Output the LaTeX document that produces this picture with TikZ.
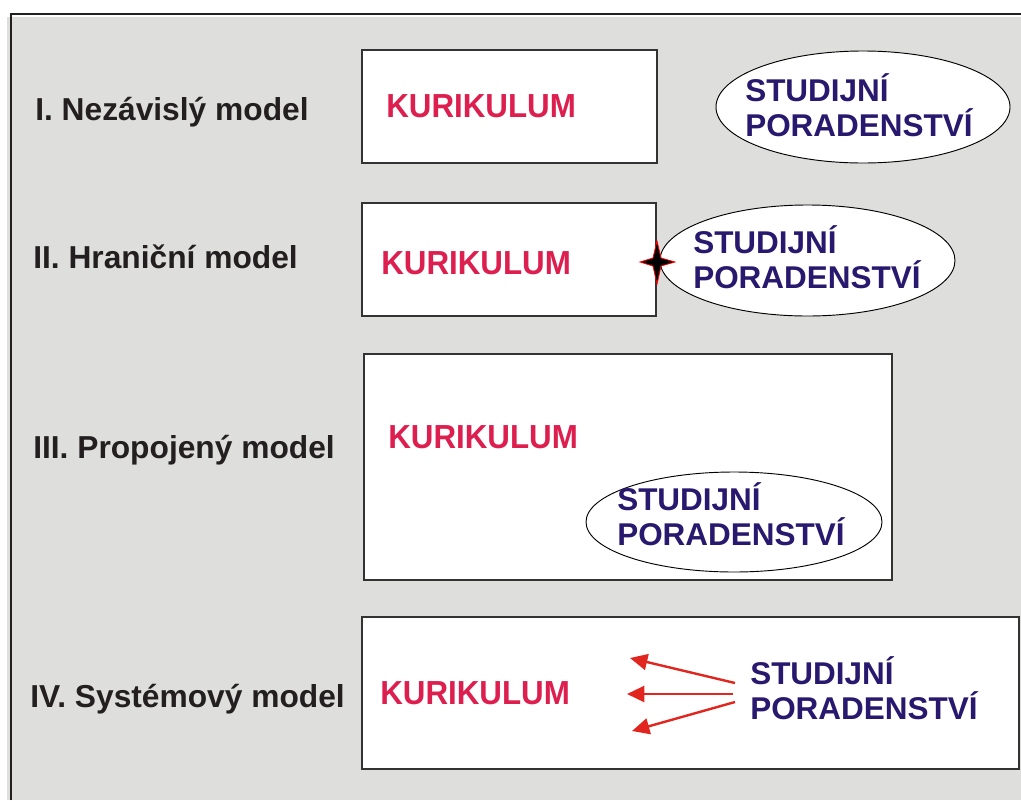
\documentclass[tikz,border=0pt]{standalone}
\usepackage{fontspec}
\setmainfont{Liberation Sans}
\newfontfamily\kurfont{Liberation Sans}[FakeStretch=0.94]
\usetikzlibrary{arrows.meta}
\definecolor{sedo}{RGB}{222,222,220}
\definecolor{kurcol}{RGB}{221,31,79}
\definecolor{porcol}{RGB}{41,25,110}
\definecolor{cerna}{RGB}{35,31,32}
\definecolor{sipka}{RGB}{224,38,30}
\begin{document}
\begin{tikzpicture}[x=0.75pt,y=-0.75pt,
  model/.style={anchor=base west,inner sep=0,text=cerna,font=\fontsize{23.8}{28}\selectfont\bfseries},
  kur/.style={anchor=base west,inner sep=0,text=kurcol,font=\kurfont\fontsize{25}{30}\selectfont\bfseries},
  por/.style={anchor=base west,inner sep=0,text=porcol,align=left,font=\fontsize{23.6}{26}\selectfont\bfseries},
  ram/.style={draw=black!80,fill=white,line width=0.8pt},
  ovl/.style={draw=black,fill=white,line width=0.7pt},
  sip/.style={draw=sipka,line width=1.8pt,-{Triangle[length=13pt,width=12pt]}}]
\useasboundingbox (0,0) rectangle (1021,800);
\fill[sedo] (7,17) rectangle (1021,800);
\draw[cerna,line width=2.2pt] (11,800)--(11,14)--(1021,14);

% I.
\node[model] (m1) at (35,120) {I. Nezávislý model};
\draw[ram] (362,50) rectangle (657,163);
\node[kur] (k1) at (386,117) {KURIKULUM};
\draw[ovl] (863,107) ellipse (147 and 56);
\node[por] (s1) at (745,136) {STUDIJNÍ\\PORADENSTVÍ};

% II.
\node[model] (m2) at (33,268) {II. Hraniční model};
\draw[ram] (362,203) rectangle (656,316);
\node[kur] (k2) at (381,274) {KURIKULUM};
\draw[ovl] (807.5,260.5) ellipse (147.5 and 55.5);
\node[por] (s2) at (693,288) {STUDIJNÍ\\PORADENSTVÍ};
\coordinate (dotyk) at (657,262);
\filldraw[draw=red,fill=black,line width=0.6pt] (dotyk) +(-17,0)--+(-4,-4)--+(0,-21)--+(4,-4)--+(18,0)--+(4,4)--+(0,22)--+(-4,4)--cycle;

% III.
\node[model] (m3) at (33,458) {III. Propojený model};
\draw[ram] (364,354) rectangle (892,580);
\node[kur] (k3) at (388,448) {KURIKULUM};
\draw[ovl] (734,522) ellipse (148 and 50);
\node[por] (s3) at (617,545) {STUDIJNÍ\\PORADENSTVÍ};

% IV.
\node[model] (m4) at (30,707) {IV. Systémový model};
\draw[ram] (362,617) rectangle (1019,769);
\node[kur] (k4) at (380,704) {KURIKULUM};
\node[por] (s4) at (750,719) {STUDIJNÍ\\PORADENSTVÍ};
\coordinate (o1) at (735,683); \coordinate (t1) at (630,658);
\coordinate (o2) at (733,694); \coordinate (t2) at (627,694);
\coordinate (o3) at (735,702); \coordinate (t3) at (632,731);
\draw[sip] (o1)--(t1);
\draw[sip] (o2)--(t2);
\draw[sip] (o3)--(t3);
\end{tikzpicture}
\end{document}
